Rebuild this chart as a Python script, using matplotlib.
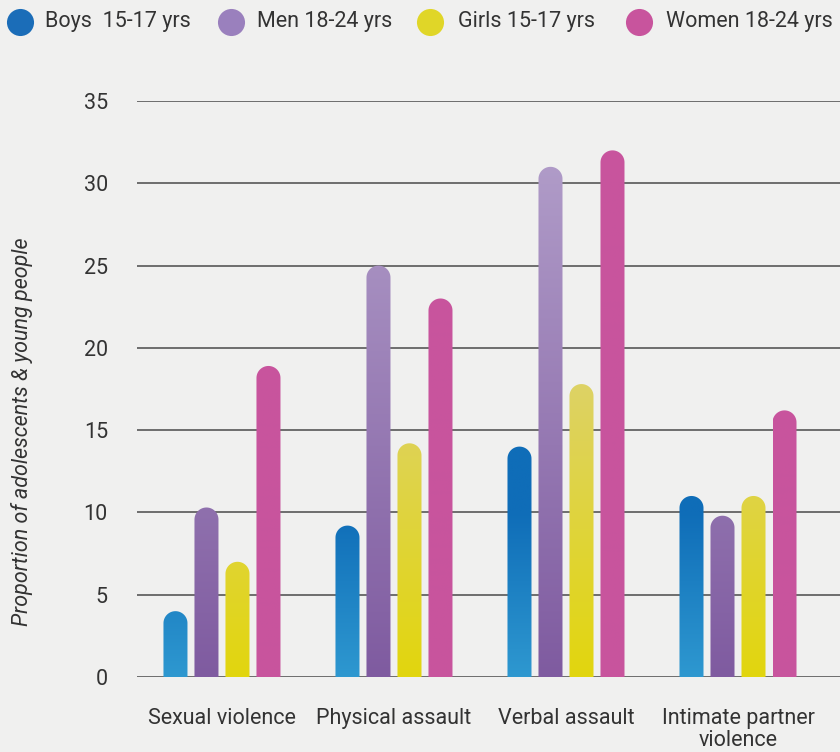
import numpy as np
import matplotlib
matplotlib.use("Agg")
import matplotlib.pyplot as plt
from matplotlib.path import Path
from matplotlib.patches import PathPatch
from matplotlib.colors import to_rgb
from matplotlib.lines import Line2D

plt.rcParams['font.family'] = ['Roboto', 'DejaVu Sans']

categories = ["Sexual violence", "Physical assault", "Verbal assault", "Intimate partner\nviolence"]
series = ["Boys  15-17 yrs", "Men 18-24 yrs", "Girls 15-17 yrs", "Women 18-24 yrs"]
boys = [4.0, 9.2, 14.0, 11.0]
men = [10.3, 25.0, 31.0, 9.8]
girls = [7.0, 14.2, 17.8, 11.0]
women = [18.9, 23.0, 32.0, 16.2]
values = [boys, men, girls, women]
yticks = [0, 5, 10, 15, 20, 25, 30, 35]

# (bottom colour, top colour, value at which the top colour is reached)
gradients = [
    ("#2E98D0", "#0F6DB8", 10.0),
    ("#7F5BA0", "#B19DC9", 32.0),
    ("#E2D60E", "#DDD266", 18.0),
    ("#C8549D", "#C8559E", 32.0),
]
legend_colors = ["#1B6DB8", "#9A80BD", "#E0D628", "#C8549D"]

W, H, DPI = 840, 752, 100
fig = plt.figure(figsize=(W / DPI, H / DPI), dpi=DPI)
fig.patch.set_facecolor("#F0F0EF")

ax_l, ax_r, ax_b, ax_t = 137, 840, 677, 101
ax = fig.add_axes([ax_l / W, 1 - ax_b / H, (ax_r - ax_l) / W, (ax_b - ax_t) / H])
ax.set_facecolor("none")
ymax = 35
x = np.arange(len(categories))

group_px = 172.0
bar_w = 24 / group_px
step = 31 / group_px
px_per_unit_y = (ax_b - ax_t) / ymax
r_y = (24 / 2) / px_per_unit_y  # cap radius in data units along y

for gi, hl in enumerate(gradients):
    c0, c1, span = np.array(to_rgb(hl[0])), np.array(to_rgb(hl[1])), hl[2]
    for ci, v in enumerate(values[gi]):
        xc = x[ci] + (gi - 1.5) * step
        x0, x1 = xc - bar_w / 2, xc + bar_w / 2
        rx = bar_w / 2
        ystart = max(v - r_y, 0)
        theta = np.linspace(0, np.pi, 40)
        arc = np.column_stack([xc + rx * np.cos(theta), ystart + r_y * np.sin(theta)])
        verts = np.vstack([[x1, 0], [x1, ystart], arc, [x0, ystart], [x0, 0], [x1, 0]])
        codes = [Path.MOVETO] + [Path.LINETO] * (len(verts) - 2) + [Path.CLOSEPOLY]
        patch = PathPatch(Path(verts, codes), facecolor="none", edgecolor="none", zorder=3)
        ax.add_patch(patch)
        ys = np.linspace(v, 0, 100)
        t = np.clip(ys / span, 0, 1)[:, None]
        img = (c0 * (1 - t) + c1 * t)[:, None, :]
        im = ax.imshow(img, extent=[x0, x1, 0, v], aspect="auto", zorder=3,
                       interpolation="bilinear")
        im.set_clip_path(patch)

ax.set_xlim(-0.494, 3.593)
ax.set_ylim(0, ymax)

for yv in yticks:
    ax.axhline(yv, color="#4A4A4A", lw=1.1, zorder=1)

ax.set_yticks(yticks)
ax.set_yticklabels([str(t) for t in yticks], fontsize=15.5, color="#333333")
ax.set_xticks(x)
ax.set_xticklabels(categories, fontsize=15.5, color="#333333", linespacing=1.1)
ax.tick_params(axis="y", length=0, pad=21)
ax.tick_params(axis="x", length=0, pad=22)
for s in ax.spines.values():
    s.set_visible(False)

fig.text(22 / W, 1 - 432 / H, "Proportion of adolescents & young people", rotation=90,
         ha="center", va="center", fontsize=15.5, style="italic", color="#333333")

# legend row across the top
legend_marker_x = [20, 231, 430, 639]
legend_text_x = [45, 257, 458, 666]
legend_y = 1 - 22 / H
for c, lab, mx, tx in zip(legend_colors, series, legend_marker_x, legend_text_x):
    fig.add_artist(Line2D([mx / W], [legend_y], marker="o", markersize=19.5,
                          markerfacecolor=c, markeredgecolor="none",
                          linestyle="none", transform=fig.transFigure))
    fig.text(tx / W, legend_y, lab, ha="left", va="center", fontsize=15.5,
             color="#333333")

fig.savefig("out.png", dpi=DPI, facecolor=fig.get_facecolor())
